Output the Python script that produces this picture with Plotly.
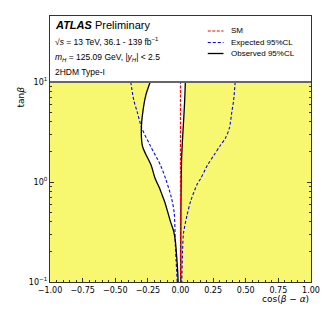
import plotly.graph_objects as go

# ---------------- data ----------------
obs_left_x = [-0.232, -0.266, -0.288, -0.300, -0.292, -0.270, -0.225, -0.195, -0.160,
              -0.140, -0.120, -0.095, -0.075, -0.052, -0.040, -0.030, -0.022, -0.018]
obs_left_y = [10.0, 7.36, 5.09, 3.44, 2.30, 1.94, 1.47, 1.09, 0.865,
              0.736, 0.627, 0.486, 0.395, 0.321, 0.261, 0.185, 0.131, 0.1]
obs_right_x = [0.037, 0.032, 0.024, 0.015, 0.008, 0.005, 0.003, 0.002, 0.002]
obs_right_y = [10.0, 6.56, 4.14, 2.61, 1.65, 1.0, 0.5, 0.2, 0.1]

exp_left_x = [-0.381, -0.358, -0.333, -0.296, -0.233, -0.150, -0.110, -0.070,
              -0.048, -0.040, -0.025]
exp_left_y = [10.0, 6.56, 5.09, 3.44, 2.33, 1.44, 1.04, 0.70,
              0.49, 0.244, 0.1]
exp_right_x = [0.419, 0.407, 0.394, 0.374, 0.344, 0.306, 0.256, 0.206, 0.156,
               0.131, 0.080, 0.050, 0.023, 0.016, 0.010]
exp_right_y = [10.0, 6.56, 5.09, 3.44, 2.74, 2.33, 1.85, 1.47, 1.09,
               0.97, 0.656, 0.465, 0.307, 0.207, 0.1]

sm_x = [0.0, 0.0]
sm_y = [0.1, 10.0]

scan_x = [-1.0, 1.0]
scan_y = [0.1, 10.0]

y_ticks = [0.1, 1.0, 10.0]
y_ticktext = ["10<sup>\u22121</sup>", "10<sup>0</sup>", "10<sup>1</sup>"]

legend_names = ["SM", "Expected 95%CL", "Observed 95%CL"]
legend_colors = ["red", "blue", "black"]
legend_dash = ["3px,1.5px", "3px,2px", "solid"]

YELLOW = "#F8F870"
TXT = "Liberation Sans"
fig = go.Figure()

# excluded region (yellow) over the whole scanned range
fig.add_trace(go.Scatter(
    x=[scan_x[0], scan_x[1], scan_x[1], scan_x[0]],
    y=[scan_y[0], scan_y[0], scan_y[1], scan_y[1]],
    fill="toself", fillcolor=YELLOW, line=dict(width=0), mode="lines",
    showlegend=False, hoverinfo="skip"))

# allowed region (white) inside observed contour
fig.add_trace(go.Scatter(
    x=obs_left_x + obs_right_x[::-1],
    y=obs_left_y + obs_right_y[::-1],
    fill="toself", fillcolor="white", line=dict(width=0, shape="spline", smoothing=0.8),
    mode="lines", showlegend=False, hoverinfo="skip"))

fig.add_trace(go.Scatter(
    x=exp_left_x + [None] + exp_right_x, y=exp_left_y + [None] + exp_right_y,
    mode="lines", name=legend_names[1], showlegend=False,
    line=dict(color="blue", width=1.1, dash=legend_dash[1], shape="spline", smoothing=0.8)))

fig.add_trace(go.Scatter(
    x=obs_left_x + [None] + obs_right_x, y=obs_left_y + [None] + obs_right_y,
    mode="lines", name=legend_names[2], showlegend=False,
    line=dict(color="black", width=1.3, shape="spline", smoothing=0.8)))

fig.add_trace(go.Scatter(
    x=sm_x, y=sm_y, mode="lines", name=legend_names[0], showlegend=False,
    line=dict(color="red", width=1.2, dash=legend_dash[0])))

# border line at top of scanned range
fig.add_shape(type="line", xref="x", yref="y", x0=scan_x[0], x1=scan_x[1],
              y0=scan_y[1], y1=scan_y[1], line=dict(color="#666", width=1.8))

fig.update_xaxes(range=[-1, 1], tick0=-1, dtick=0.25, tickformat=".2f",
                 ticks="inside", ticklen=4, tickcolor="#333", showgrid=False,
                 zeroline=False, showline=True, linecolor="#333", linewidth=1.2,
                 mirror=True, tickfont=dict(family="DejaVu Sans", size=8, color="black"),
                 minor=dict(ticks="inside", ticklen=2, dtick=0.05, tickcolor="#333", showgrid=False))

minor_y = [m * 10.0 ** e for e in (-1, 0) for m in range(2, 10)]
fig.update_yaxes(type="log", range=[-1, 1.66], tickvals=y_ticks, ticktext=y_ticktext,
                 ticks="inside", ticklen=4, tickcolor="#333", showgrid=False,
                 zeroline=False, showline=True, linecolor="#333", linewidth=1.2,
                 mirror="allticks", tickfont=dict(family="DejaVu Sans", size=8, color="black"),
                 minor=dict(ticks="inside", ticklen=2, tickvals=minor_y, tickcolor="#333", showgrid=False))

L, R, T, B = 50, 16.5, 16, 50
pw, ph = 332 - L - R, 332 - T - B

def px(xp):
    return (xp - L) / pw

def py(yp):
    return (332 - B - yp) / ph

ann = [
    dict(text="<b><i>ATLAS</i></b> Preliminary", x=px(53), y=py(25), size=11),
    dict(text="\u221a<i>s</i> = 13 TeV, 36.1 - 139 fb<sup>\u22121</sup>", x=px(53), y=py(41), size=8.5),
    dict(text="<i>m<sub>H</sub></i> = 125.09 GeV, |<i>y<sub>H</sub></i>| &lt; 2.5", x=px(53), y=py(57), size=8.5),
    dict(text="2HDM Type-I", x=px(53), y=py(72), size=8.5),
]
for a in ann:
    fig.add_annotation(text=a["text"], x=a["x"], y=a["y"], xref="paper", yref="paper",
                       xanchor="left", yanchor="middle", showarrow=False,
                       font=dict(family=TXT, size=a["size"], color="black"))

# manual legend (compact, matplotlib-like)
leg_rows = [31, 42.5, 53.5]
for name, col, dash, yrow in zip(legend_names, legend_colors, legend_dash, leg_rows):
    fig.add_shape(type="line", xref="paper", yref="paper", x0=px(210.5), x1=px(226.5),
                  y0=py(yrow), y1=py(yrow),
                  line=dict(color=col, width=1.1 if col != "black" else 1.3, dash=dash))
    fig.add_annotation(text=name, x=px(232.5), y=py(yrow), xref="paper", yref="paper",
                       xanchor="left", yanchor="middle", showarrow=False,
                       font=dict(family=TXT, size=8, color="black"))

fig.add_annotation(text="tan<i>\u03b2</i>", x=px(20), y=py(97), xref="paper", yref="paper",
                   textangle=-90, showarrow=False, xanchor="center", yanchor="middle",
                   font=dict(family="DejaVu Sans", size=9, color="black"))
fig.add_annotation(text="cos(<i>\u03b2</i> \u2212 <i>\u03b1</i>)", x=px(316), y=py(299),
                   xref="paper", yref="paper", showarrow=False, xanchor="right", yanchor="middle",
                   font=dict(family="DejaVu Sans", size=9, color="black"))

fig.update_layout(
    width=332, height=332, margin=dict(l=L, r=R, t=T, b=B),
    plot_bgcolor="white", paper_bgcolor="white",
    font=dict(family="DejaVu Sans", color="black"),
    showlegend=False,
)

fig.write_html("out.html", config={"displayModeBar": False},
               post_script="document.body.style.margin='0px';")
